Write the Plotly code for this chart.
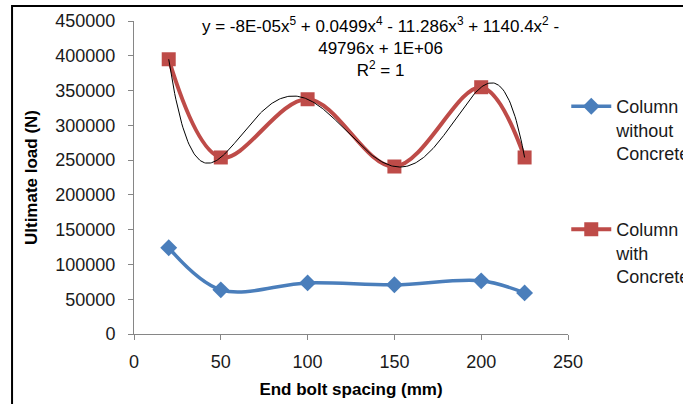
import numpy as np
import plotly.graph_objects as go

spacing = [20, 50, 100, 150, 200, 225]
without_concrete = [124000, 63500, 73500, 70700, 76400, 59100]
with_concrete = [395000, 253800, 337500, 240800, 354800, 253800]

x_ticks = [0, 50, 100, 150, 200, 250]
y_ticks = [0, 50000, 100000, 150000, 200000, 250000, 300000, 350000, 400000, 450000]

# 5th-order polynomial trendline fitted to the "with concrete" series
coef = np.polyfit(spacing, with_concrete, 5)
xt = np.linspace(min(spacing), max(spacing), 300)
yt = np.polyval(coef, xt)

FONT = "Liberation Sans"
BLUE = "#4A7EBB"
RED = "#BE4B48"

fig = go.Figure()
fig.add_trace(go.Scatter(
    x=spacing, y=without_concrete, mode="lines+markers",
    name="Column<br>without<br>Concrete",
    line=dict(color=BLUE, width=3.5, shape="spline", smoothing=1),
    marker=dict(symbol="diamond", size=13, color=BLUE),
    legend="legend",
))
fig.add_trace(go.Scatter(
    x=spacing, y=with_concrete, mode="lines+markers",
    name="Column<br>with<br>Concrete",
    line=dict(color=RED, width=4, shape="spline", smoothing=1),
    marker=dict(symbol="square", size=14, color=RED),
    legend="legend2",
))
fig.add_trace(go.Scatter(
    x=xt, y=yt, mode="lines", showlegend=False,
    line=dict(color="#000000", width=1),
))

axis_common = dict(
    showgrid=False, zeroline=False, showline=True, linecolor="#868686", linewidth=1,
    ticks="outside", tickcolor="#868686", ticklen=5,
    tickfont=dict(family=FONT, size=18, color="#1a1a1a"),
)

fig.update_layout(
    width=683, height=404,
    margin=dict(l=134, r=115, t=21, b=70, autoexpand=False),
    paper_bgcolor="white", plot_bgcolor="white",
    font=dict(family=FONT, color="#000000"),
    xaxis=dict(range=[0, 250], tickvals=x_ticks, ticklabelstandoff=6,
               title=dict(text="<b>End bolt spacing (mm)</b>", font=dict(family=FONT, size=17), standoff=12),
               **axis_common),
    yaxis=dict(range=[0, 450000], tickvals=y_ticks, tickformat="d", ticklabelstandoff=9,
               title=dict(text="<b>Ultimate load (N)</b>", font=dict(family=FONT, size=17), standoff=13),
               **axis_common),
    legend=dict(x=0.996, y=0.786, xanchor="left", yanchor="top", itemwidth=40, valign="top",
                font=dict(family=FONT, size=18, color="#1a1a1a"), bgcolor="rgba(0,0,0,0)"),
    legend2=dict(x=0.996, y=0.393, xanchor="left", yanchor="top", itemwidth=40, valign="top",
                 font=dict(family=FONT, size=18, color="#1a1a1a"), bgcolor="rgba(0,0,0,0)"),
    showlegend=True,
)

fig.add_annotation(
    xref="paper", yref="paper", x=0.567, y=1.03, xanchor="center", yanchor="top",
    text="y = -8E-05x<sup>5</sup> + 0.0499x<sup>4</sup> - 11.286x<sup>3</sup> + 1140.4x<sup>2</sup> -<br>49796x + 1E+06<br>R<sup>2</sup> = 1",
    showarrow=False, align="center", font=dict(family=FONT, size=17, color="#000000"),
)

fig.add_shape(type="rect", xref="paper", yref="paper",
              x0=-0.281, x1=1.6, y0=-0.6, y1=1.048,
              line=dict(color="#000000", width=2), layer="below")

fig.write_html("out.html", config={"displayModeBar": False},
               post_script="document.body.style.margin='0';")
